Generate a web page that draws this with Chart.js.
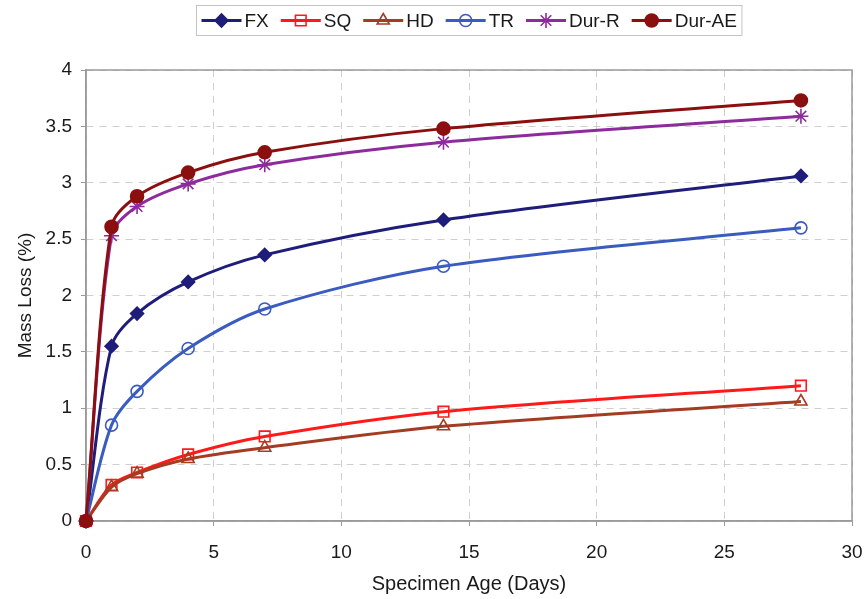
<!DOCTYPE html>
<html>
<head>
<meta charset="utf-8">
<script src="https://cdn.jsdelivr.net/npm/chart.js@4/dist/chart.umd.min.js"></script>
<style>
  html, body { margin: 0; padding: 0; background: #ffffff; }
  #wrap { width: 867px; height: 599px; position: relative; }
</style>
</head>
<body>
<div id="wrap"><canvas id="c" width="867" height="599"></canvas></div>
<script>
// Specimen age (days) at each measurement
const ageDays = [0, 1, 2, 4, 7, 14, 28];

// Mass loss (%) per curing method
const fx    = [0, 1.55, 1.84, 2.12, 2.36, 2.67, 3.06];
const sq    = [0, 0.32, 0.43, 0.59, 0.75, 0.97, 1.20];
const hd    = [0, 0.30, 0.42, 0.55, 0.65, 0.84, 1.06];
const tr    = [0, 0.85, 1.15, 1.53, 1.88, 2.26, 2.60];
const durR  = [0, 2.53, 2.79, 2.99, 3.16, 3.36, 3.59];
const durAE = [0, 2.61, 2.88, 3.09, 3.27, 3.48, 3.73];

const seriesNames = ['FX', 'SQ', 'HD', 'TR', 'Dur-R', 'Dur-AE'];
const xTicks = [0, 5, 10, 15, 20, 25, 30];
const yTicks = [0, 0.5, 1, 1.5, 2, 2.5, 3, 3.5, 4];

const FONT = "'Liberation Sans', Arial, sans-serif";

const styles = [
  { color: '#1f1d7a', point: 'rectRot',  radius: 6.5, fill: '#1f1d7a' },
  { color: '#ff1a1a', point: 'rect',     radius: 7.5, fill: 'rgba(0,0,0,0)' },
  { color: '#a33c22', point: 'triangle', radius: 7,   fill: 'rgba(0,0,0,0)' },
  { color: '#3a5bbf', point: 'circle',   radius: 6,   fill: 'rgba(0,0,0,0)' },
  { color: '#8e2b9c', point: 'star',     radius: 7.5, fill: 'rgba(0,0,0,0)' },
  { color: '#8b0f0f', point: 'circle',   radius: 6.5, fill: '#8b0f0f' }
];
const values = [fx, sq, hd, tr, durR, durAE];

const datasets = seriesNames.map((name, i) => ({
  label: name,
  data: ageDays.map((d, k) => ({ x: d, y: values[i][k] })),
  borderColor: styles[i].color,
  backgroundColor: styles[i].fill,
  borderWidth: 3,
  pointStyle: styles[i].point,
  pointRadius: styles[i].radius,
  pointHoverRadius: styles[i].radius,
  pointBorderColor: styles[i].color,
  pointBackgroundColor: styles[i].fill,
  pointBorderWidth: 1.6,
  tension: 0.3,
  clip: false,
  order: seriesNames.length - i
}));

// Legend box along the top: a short line with the series marker, then the name
const lineLegend = {
  id: 'lineLegend',
  afterDraw(chart) {
    const ctx = chart.ctx;
    ctx.save();
    ctx.font = '19px ' + FONT;
    const lineLen = 40, gapText = 3, gapItem = 12, padX = 5;
    const widths = seriesNames.map(n => ctx.measureText(n).width);
    const total = widths.reduce((a, w) => a + lineLen + gapText + w, 0) + gapItem * (seriesNames.length - 1);
    const boxW = total + padX * 2;
    const cx = (chart.chartArea.left + chart.chartArea.right) / 2;
    const boxX = Math.round(cx - boxW / 2) + 0.5;
    const boxY = 5.5, boxH = 30;
    ctx.strokeStyle = '#c4c4c4';
    ctx.lineWidth = 1;
    ctx.strokeRect(boxX, boxY, boxW, boxH);
    let x = boxX + padX;
    const y = boxY + boxH / 2;
    seriesNames.forEach((n, i) => {
      const s = styles[i];
      ctx.strokeStyle = s.color;
      ctx.lineWidth = 3;
      ctx.beginPath();
      ctx.moveTo(x, y);
      ctx.lineTo(x + lineLen, y);
      ctx.stroke();
      ctx.fillStyle = s.fill;
      ctx.strokeStyle = s.color;
      ctx.lineWidth = 1.6;
      Chart.helpers.drawPoint(ctx, { pointStyle: s.point, radius: s.radius, rotation: 0, borderWidth: 1.6 }, x + lineLen / 2, y);
      ctx.fillStyle = '#1a1a1a';
      ctx.textBaseline = 'middle';
      ctx.textAlign = 'left';
      ctx.fillText(n, x + lineLen + gapText, y + 1);
      x += lineLen + gapText + widths[i] + gapItem;
    });
    ctx.restore();
  }
};

// Solid grey frame around the plotting area
const plotFrame = {
  id: 'plotFrame',
  beforeDatasetsDraw(chart) {
    const { ctx, chartArea: a } = chart;
    ctx.save();
    ctx.strokeStyle = '#9a9a9a';
    ctx.lineWidth = 1.5;
    ctx.strokeRect(a.left, a.top, a.right - a.left, a.bottom - a.top);
    ctx.restore();
  }
};

const plainNumber = v => String(v);

new Chart(document.getElementById('c'), {
  type: 'line',
  data: { datasets },
  plugins: [plotFrame, lineLegend],
  options: {
    responsive: false,
    animation: false,
    devicePixelRatio: 1,
    layout: { padding: { top: 70, right: 15, left: 0, bottom: 0 } },
    plugins: {
      legend: { display: false },
      tooltip: { enabled: false }
    },
    scales: {
      x: {
        type: 'linear',
        min: 0, max: 30,
        afterFit(scale) { scale.height = 78; scale.paddingLeft = 0; scale.paddingRight = 0; },
        afterBuildTicks(scale) { scale.ticks = xTicks.map(v => ({ value: v })); },
        ticks: {
          font: { family: FONT, size: 19 },
          color: '#1a1a1a',
          padding: 15,
          callback: plainNumber
        },
        grid: {
          color: '#cfcfcf',
          lineWidth: 1,
          tickLength: 5,
          tickColor: '#9a9a9a',
          tickBorderDash: [],
          drawTicks: true
        },
        border: { color: '#9a9a9a', width: 1.5, dash: [7, 6] },
        title: {
          display: true,
          text: 'Specimen Age (Days)',
          font: { family: FONT, size: 20 },
          color: '#1a1a1a',
          padding: { top: 0, bottom: 3 }
        }
      },
      y: {
        type: 'linear',
        min: 0, max: 4,
        afterFit(scale) { scale.width = 86; scale.paddingTop = 0; scale.paddingBottom = 0; },
        afterBuildTicks(scale) { scale.ticks = yTicks.map(v => ({ value: v })); },
        ticks: {
          font: { family: FONT, size: 19 },
          color: '#1a1a1a',
          padding: 9,
          callback: plainNumber
        },
        grid: {
          color: '#cfcfcf',
          lineWidth: 1,
          tickLength: 5,
          tickColor: '#9a9a9a',
          tickBorderDash: [],
          drawTicks: true
        },
        border: { color: '#9a9a9a', width: 1.5, dash: [7, 6] },
        title: {
          display: true,
          text: 'Mass Loss (%)',
          font: { family: FONT, size: 19 },
          color: '#1a1a1a',
          padding: { top: 14, bottom: 0 }
        }
      }
    }
  }
});
</script>
</body>
</html>
